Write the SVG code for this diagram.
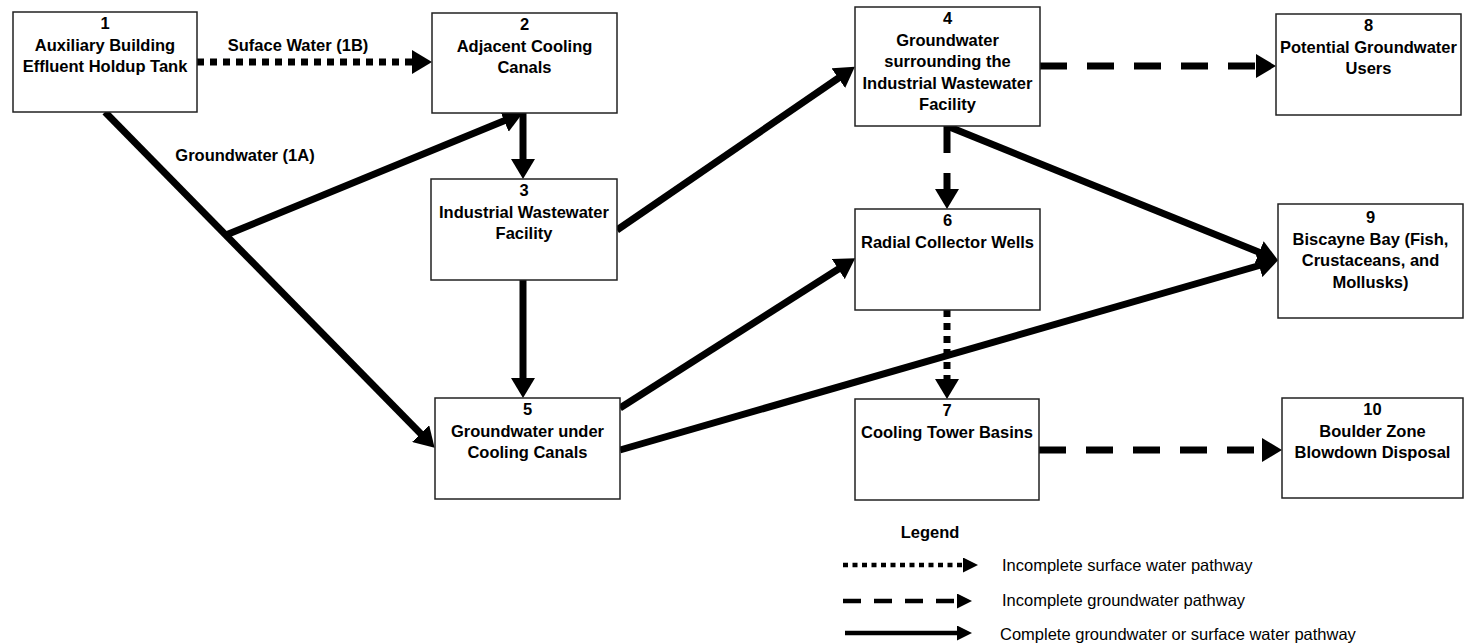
<svg xmlns="http://www.w3.org/2000/svg" width="1464" height="644" viewBox="0 0 1464 644">
<style>
.box{fill:#fff;stroke:#222;stroke-width:1.5}
.t{font-family:"Liberation Sans",Arial,sans-serif;font-size:16.5px;font-weight:bold;fill:#000;text-anchor:middle}
.lt{font-family:"Liberation Sans",Arial,sans-serif;font-size:16.5px;fill:#000}
.c{fill:none;stroke:#000;stroke-width:7}
.dot{stroke-dasharray:7 6}
.dash{stroke-dasharray:27 20}
.lg{fill:none;stroke:#000;stroke-width:4.5}
</style>
<defs>
<marker id="ah" markerUnits="userSpaceOnUse" viewBox="0 0 20 24" markerWidth="20" markerHeight="24" refX="2" refY="12" orient="auto">
<path d="M0,0 L20,12 L0,24 z" fill="#000"/>
</marker>
<marker id="ahs" markerUnits="userSpaceOnUse" viewBox="0 0 15 15" markerWidth="15" markerHeight="15" refX="1" refY="7.5" orient="auto">
<path d="M0,0 L15,7.5 L0,15 z" fill="#000"/>
</marker>
</defs>

<g id="connectors">
<line class="c dot" x1="197" y1="62" x2="414" y2="62" marker-end="url(#ah)"/>
<line class="c" x1="105" y1="112" x2="422" y2="435" marker-end="url(#ah)"/>
<line class="c" x1="226" y1="235" x2="506" y2="120" marker-end="url(#ah)"/>
<line class="c" x1="523" y1="113" x2="523" y2="161" marker-end="url(#ah)"/>
<line class="c" x1="523" y1="280" x2="523" y2="380" marker-end="url(#ah)"/>
<line class="c" x1="617" y1="230" x2="840" y2="77" marker-end="url(#ah)"/>
<line class="c" x1="620" y1="408" x2="840" y2="268" marker-end="url(#ah)"/>
<line class="c" x1="620" y1="450" x2="1261" y2="265" marker-end="url(#ah)"/>
<line class="c" x1="947" y1="126" x2="1261" y2="253" marker-end="url(#ah)"/>
<line class="c dash" x1="947" y1="126" x2="947" y2="191" marker-end="url(#ah)"/>
<line class="c dot" x1="947" y1="310" x2="947" y2="381" marker-end="url(#ah)"/>
<line class="c dash" x1="1040" y1="66" x2="1258" y2="66" marker-end="url(#ah)"/>
<line class="c dash" x1="1039" y1="450" x2="1264" y2="450" marker-end="url(#ah)"/>
</g>

<g id="labels">
<text class="t" x="298" y="51">Suface Water (1B)</text>
<text class="t" x="245" y="161">Groundwater (1A)</text>
</g>

<g id="node1">
<rect class="box" x="13" y="12" width="184" height="100"/>
<text class="t" x="105" y="29">1</text>
<text class="t" x="105" y="50.5">Auxiliary Building</text>
<text class="t" x="105" y="72">Effluent Holdup Tank</text>
</g>
<g id="node2">
<rect class="box" x="432" y="13" width="185" height="100"/>
<text class="t" x="524.5" y="30">2</text>
<text class="t" x="524.5" y="51.5">Adjacent Cooling</text>
<text class="t" x="524.5" y="73">Canals</text>
</g>
<g id="node3">
<rect class="box" x="431" y="179" width="186" height="101"/>
<text class="t" x="524" y="196">3</text>
<text class="t" x="524" y="217.5">Industrial Wastewater</text>
<text class="t" x="524" y="239">Facility</text>
</g>
<g id="node4">
<rect class="box" x="855" y="7" width="185" height="119"/>
<text class="t" x="947.5" y="24">4</text>
<text class="t" x="947.5" y="45.5">Groundwater</text>
<text class="t" x="947.5" y="67">surrounding the</text>
<text class="t" x="947.5" y="88.5">Industrial Wastewater</text>
<text class="t" x="947.5" y="110">Facility</text>
</g>
<g id="node5">
<rect class="box" x="435" y="398" width="185" height="101"/>
<text class="t" x="527.5" y="415">5</text>
<text class="t" x="527.5" y="436.5">Groundwater under</text>
<text class="t" x="527.5" y="458">Cooling Canals</text>
</g>
<g id="node6">
<rect class="box" x="855" y="209" width="185" height="101"/>
<text class="t" x="947.5" y="226">6</text>
<text class="t" x="947.5" y="247.5">Radial Collector Wells</text>
</g>
<g id="node7">
<rect class="box" x="855" y="399" width="184" height="101"/>
<text class="t" x="947" y="416">7</text>
<text class="t" x="947" y="437.5">Cooling Tower Basins</text>
</g>
<g id="node8">
<rect class="box" x="1276" y="14" width="185" height="101"/>
<text class="t" x="1368.5" y="31">8</text>
<text class="t" x="1368.5" y="52.5">Potential Groundwater</text>
<text class="t" x="1368.5" y="74">Users</text>
</g>
<g id="node9">
<rect class="box" x="1278" y="204" width="185" height="114"/>
<text class="t" x="1370.5" y="223">9</text>
<text class="t" x="1370.5" y="244.5">Biscayne Bay (Fish,</text>
<text class="t" x="1370.5" y="266">Crustaceans, and</text>
<text class="t" x="1370.5" y="287.5">Mollusks)</text>
</g>
<g id="node10">
<rect class="box" x="1282" y="398" width="181" height="100"/>
<text class="t" x="1372.5" y="415">10</text>
<text class="t" x="1372.5" y="436.5">Boulder Zone</text>
<text class="t" x="1372.5" y="458">Blowdown Disposal</text>
</g>

<g id="legend">
<text class="t" x="930" y="538">Legend</text>
<line class="lg" x1="843" y1="565" x2="964" y2="565" style="stroke-dasharray:5 4.5" marker-end="url(#ahs)"/>
<line class="lg" x1="843" y1="601" x2="958" y2="601" style="stroke-dasharray:18 13" marker-end="url(#ahs)"/>
<line class="lg" x1="845" y1="633" x2="958" y2="633" marker-end="url(#ahs)"/>
<text class="lt" x="1002" y="571">Incomplete surface water pathway</text>
<text class="lt" x="1002" y="606">Incomplete groundwater pathway</text>
<text class="lt" x="1000" y="640">Complete groundwater or surface water pathway</text>
</g>
</svg>
